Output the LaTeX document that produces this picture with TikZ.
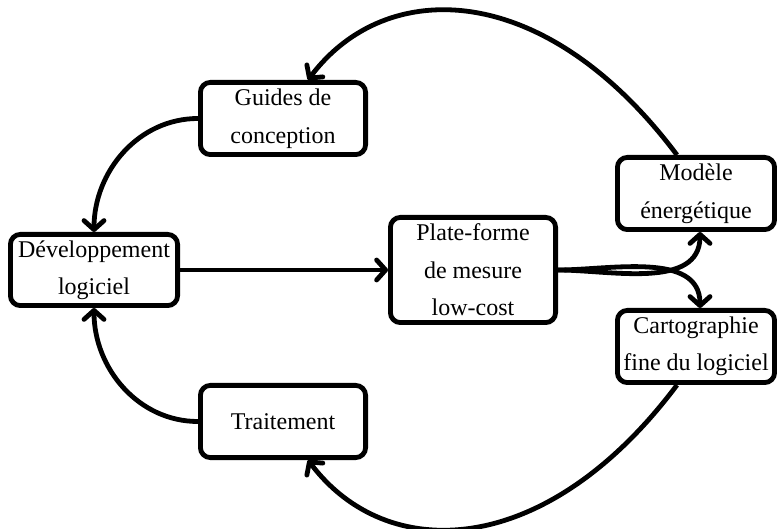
\documentclass[tikz,border=0pt]{standalone}
\usepackage{fontspec}
\setmainfont{Liberation Serif}
\usetikzlibrary{arrows.meta,calc}
\begin{document}
\begin{tikzpicture}[x=0.5pt,y=-0.5pt,
  box/.style={draw, line width=2.4pt, rounded corners=5pt, align=center,
    font=\fontsize{12}{18.75}\selectfont, inner sep=2pt, minimum height=36.1pt},
  arr/.style={line width=2.4pt, -{Straight Barb[length=4.5pt,width=10pt,round]}}]
\useasboundingbox (0,0) rectangle (777,529);
\node[box, minimum width=83.6pt, minimum height=35.6pt] (dev) at (94,270) {Développement\\logiciel};
\node[box, minimum width=82.6pt] (guides) at (283,118.5) {Guides de\\conception};
\node[box, minimum width=82.6pt, minimum height=52.6pt] (plate) at (473,270) {Plate-forme\\de mesure\\low-cost};
\node[box, minimum width=78.6pt] (modele) at (696,193.5) {Modèle\\énergétique};
\node[box, minimum width=78.6pt] (carto) at (696,346.5) {Cartographie\\fine du logiciel};
\node[box, minimum width=82.6pt] (trait) at (283,421.5) {Traitement};
\draw[arr] (dev.east) -- (plate.west);
\draw[arr] (guides.west) .. controls +(-60,0) and +(0,-60) .. (dev.north);
\draw[arr] (trait.west) .. controls +(-60,0) and +(0,60) .. (dev.south);
\draw[arr] ($(modele.north)+(-19,0)$) .. controls +(-132,-176) and +(78,-104) .. ($(guides.north)+(25,0)$);
\draw[arr] ($(carto.south)+(-19,0)$) .. controls +(-132,176) and +(78,104) .. ($(trait.south)+(25,0)$);
\draw[arr] (plate.east) .. controls +(52,0) and +(0,58) .. ($(modele.south)+(4,0)$);
\draw[arr] (plate.east) .. controls +(52,0) and +(0,-57) .. ($(carto.north)+(4,0)$);
\end{tikzpicture}
\end{document}
